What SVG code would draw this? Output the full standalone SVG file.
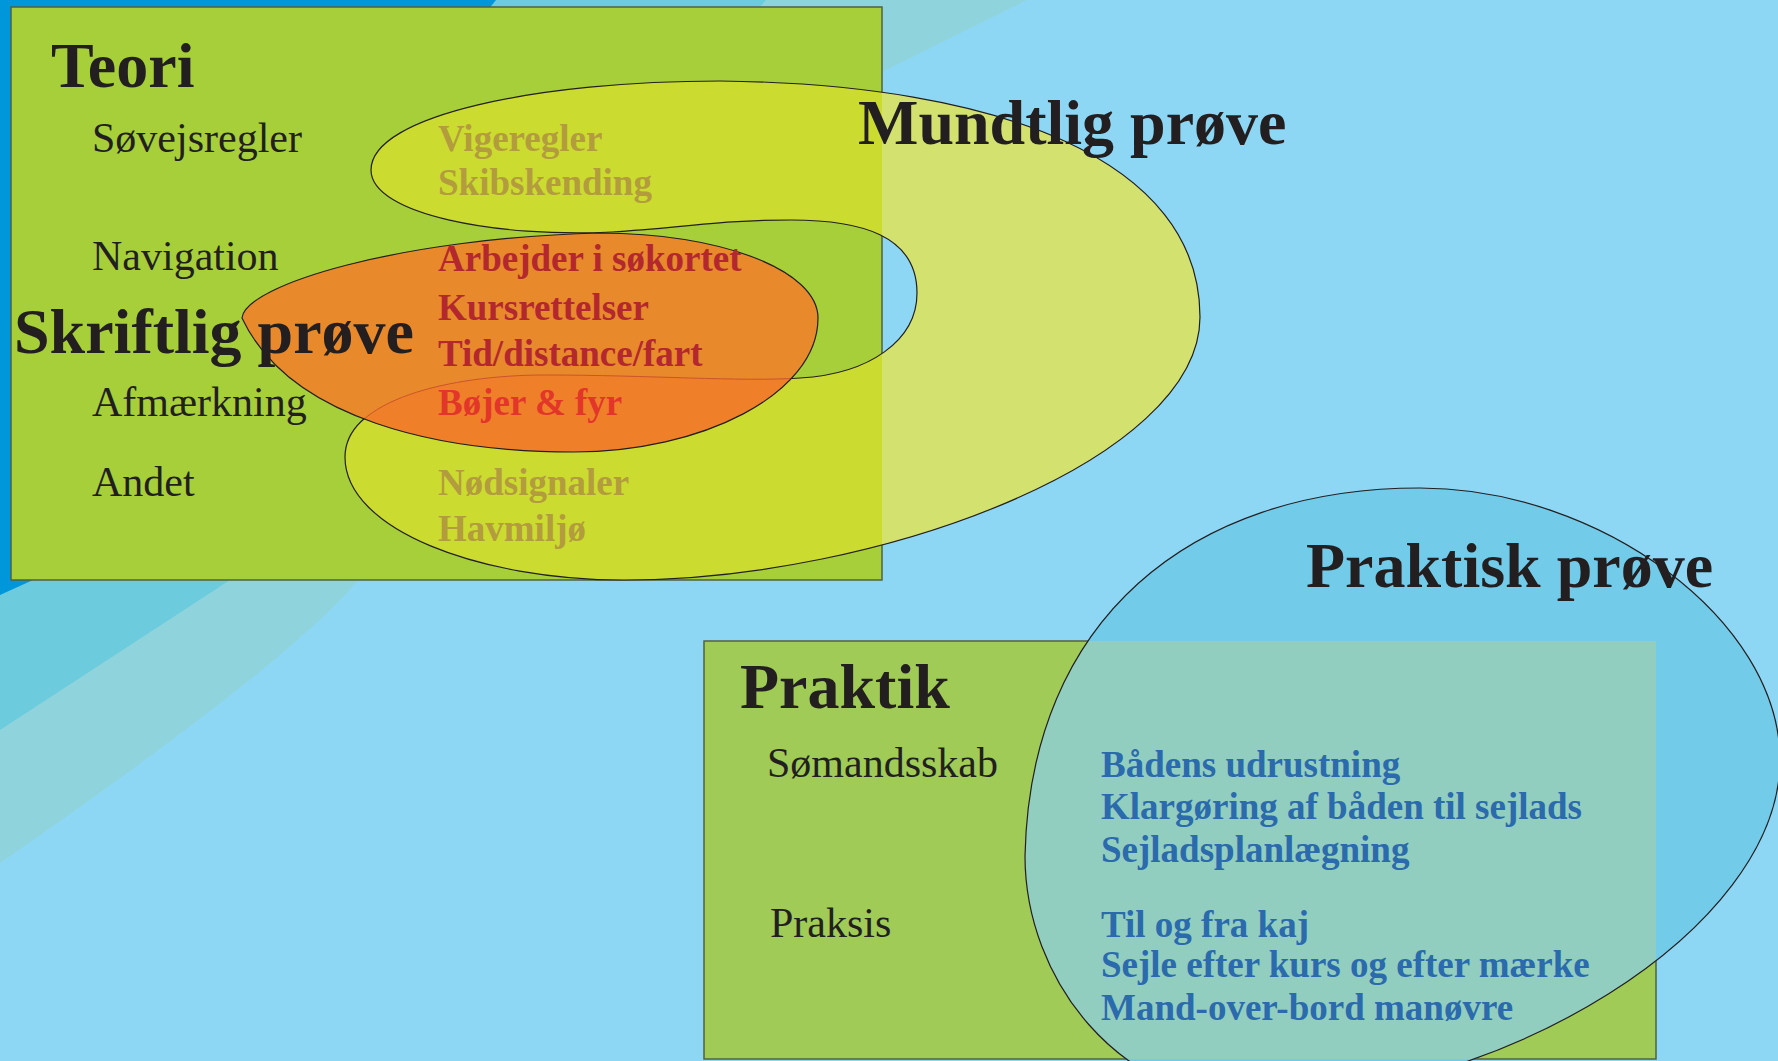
<svg xmlns="http://www.w3.org/2000/svg" width="1778" height="1061" viewBox="0 0 1778 1061">
<defs>
<style>
.title{font-family:"Liberation Serif","Times New Roman",serif;font-weight:bold;font-size:64px;fill:#231f20}
.lbl{font-family:"Liberation Serif","Times New Roman",serif;font-size:42px;fill:#231f20}
.item{font-family:"Liberation Serif","Times New Roman",serif;font-weight:bold;font-size:37px}
.tan{fill:#b39c3e}
.dred{fill:#b3272f}
.red{fill:#e2362b}
.blue{fill:#2a6aad}
.outline{fill:none;stroke:#231f20;stroke-width:1.2}
.box{stroke:#52623f;stroke-width:1.5}
</style>
<path id="mundPath" d="M371,170 C371,115 540,81 720,81 C1000,84 1200,160 1200,317 C1200,460 880,580 624,580 C480,580 345,530 345,457 C345,400 450,375 545,375 C650,375 740,382 800,378 C870,374 917,340 917,293 C917,235 860,220 791,220 C720,220 680,228 612,232 C500,238 371,215 371,170 Z"/>
<path id="skrPath" d="M242,318 C245,285 400,238 600,233 C720,233 818,270 818,318 C818,395 700,452 574,452 C440,452 290,420 242,318 Z"/>
<path id="praPath" d="M1025,856 C1030,620 1190,488 1420,488 C1600,488 1780,620 1780,760 C1780,930 1500,1100 1250,1100 C1120,1100 1025,980 1025,856 Z"/>
<clipPath id="teoriClip"><rect x="11" y="7" width="871" height="573"/></clipPath>
<clipPath id="skrClip"><use href="#skrPath"/></clipPath>
<clipPath id="praktikClip"><rect x="704" y="641" width="952" height="418"/></clipPath>
</defs>

<g id="background">
<rect width="1778" height="1061" fill="#8dd7f5"/>
<path d="M0,0 L1027,0 L882,72 L360,578 C330,615 250,690 0,863 Z" fill="#8fd4dd"/>
<path d="M0,0 L766,0 L230,580 L0,730 Z" fill="#6ccbdd"/>
<path d="M0,0 L496,0 L33,580 L0,595 Z" fill="#0096da"/>
</g>

<g id="teori">
<rect class="box" x="11" y="7" width="871" height="573" fill="#a7cf3a"/>
<text class="title" x="51" y="87">Teori</text>
<text class="lbl" x="92" y="152">Søvejsregler</text>
<text class="lbl" x="92" y="270">Navigation</text>
<text class="lbl" x="92" y="416">Afmærkning</text>
<text class="lbl" x="92" y="496">Andet</text>
</g>

<g id="mundtlig">
<use href="#mundPath" fill="#d3e26f"/>
<use href="#mundPath" fill="#ccdb2f" clip-path="url(#teoriClip)"/>
<use href="#mundPath" class="outline"/>
<text class="title" x="858" y="144">Mundtlig prøve</text>
<text class="item tan" x="438" y="151">Vigeregler</text>
<text class="item tan" x="438" y="195">Skibskending</text>
<text class="item tan" x="438" y="495">Nødsignaler</text>
<text class="item tan" x="438" y="541">Havmiljø</text>
</g>

<g id="skriftlig">
<use href="#skrPath" fill="#e8892b"/>
<use href="#mundPath" fill="#f07f2a" stroke="#c9552a" stroke-width="1" clip-path="url(#skrClip)"/>
<use href="#skrPath" class="outline"/>
<text class="title" x="14" y="353">Skriftlig prøve</text>
<text class="item dred" x="438" y="271">Arbejder i søkortet</text>
<text class="item dred" x="438" y="320">Kursrettelser</text>
<text class="item dred" x="438" y="366">Tid/distance/fart</text>
<text class="item red" x="438" y="415">Bøjer &amp; fyr</text>
</g>

<g id="praktik">
<rect class="box" x="704" y="641" width="952" height="418" fill="#9fcb56"/>
<text class="title" x="740" y="708">Praktik</text>
<text class="lbl" x="767" y="777">Sømandsskab</text>
<text class="lbl" x="770" y="937">Praksis</text>
</g>

<g id="praktisk">
<use href="#praPath" fill="#72cbe9"/>
<use href="#praPath" fill="#91cebf" clip-path="url(#praktikClip)"/>
<use href="#praPath" class="outline"/>
<text class="title" x="1306" y="587">Praktisk prøve</text>
<text class="item blue" x="1101" y="777">Bådens udrustning</text>
<text class="item blue" x="1101" y="819">Klargøring af båden til sejlads</text>
<text class="item blue" x="1101" y="862">Sejladsplanlægning</text>
<text class="item blue" x="1101" y="937">Til og fra kaj</text>
<text class="item blue" x="1101" y="977">Sejle efter kurs og efter mærke</text>
<text class="item blue" x="1101" y="1020">Mand-over-bord manøvre</text>
</g>

<g id="connectors"/>
</svg>
